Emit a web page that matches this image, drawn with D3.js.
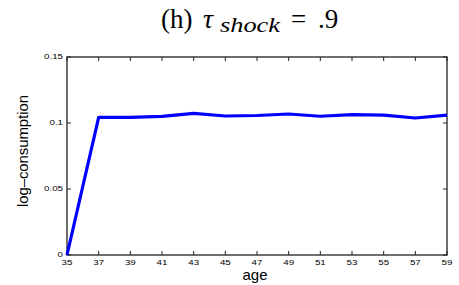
<!DOCTYPE html>
<html>
<head>
<meta charset="utf-8">
<script src="https://cdn.jsdelivr.net/npm/d3@7"></script>
<style>
  body { margin: 0; background: #fff; }
  svg { display: block; }
</style>
</head>
<body>
<script>
const ages = [35, 37, 39, 41, 43, 45, 47, 49, 51, 53, 55, 57, 59];
const consumption = [0, 0.1043, 0.1043, 0.105, 0.1073, 0.1053, 0.1057, 0.1068, 0.1051, 0.1063, 0.106, 0.1038, 0.106];
const yTicks = [0, 0.05, 0.1, 0.15];
const yTickLabels = ["0", "0.05", "0.1", "0.15"];

const width = 459, height = 285;
const margin = { top: 57, right: 12, bottom: 30, left: 67 };

const svg = d3.select("body").append("svg")
    .attr("width", width)
    .attr("height", height);

const x = d3.scaleLinear().domain([35, 59]).range([margin.left, width - margin.right]);
const y = d3.scaleLinear().domain([0, 0.15]).range([height - margin.bottom, margin.top]);

const tickFont = "Liberation Sans, Arial, sans-serif";

// box
svg.append("rect")
    .attr("x", x(35)).attr("y", y(0.15))
    .attr("width", x(59) - x(35)).attr("height", y(0) - y(0.15))
    .attr("fill", "none").attr("stroke", "#222").attr("stroke-width", 1.3);

// ticks, inward on all four sides
const tickLen = 4;
ages.forEach(a => {
    svg.append("line").attr("x1", x(a)).attr("x2", x(a))
        .attr("y1", y(0)).attr("y2", y(0) - tickLen).attr("stroke", "#222");
    svg.append("line").attr("x1", x(a)).attr("x2", x(a))
        .attr("y1", y(0.15)).attr("y2", y(0.15) + tickLen).attr("stroke", "#222");
});
yTicks.forEach(t => {
    svg.append("line").attr("x1", x(35)).attr("x2", x(35) + tickLen)
        .attr("y1", y(t)).attr("y2", y(t)).attr("stroke", "#222");
    svg.append("line").attr("x1", x(59)).attr("x2", x(59) - tickLen)
        .attr("y1", y(t)).attr("y2", y(t)).attr("stroke", "#222");
});

// tick labels (a bit wide, like the original export)
svg.append("g").selectAll("text")
    .data(ages)
    .enter().append("text")
    .attr("transform", d => `translate(${x(d)}, ${y(0) + 10}) scale(1.3, 1)`)
    .attr("text-anchor", "middle")
    .attr("font-family", tickFont)
    .attr("font-size", 7.5)
    .text(d => d);

svg.append("g").selectAll("text")
    .data(yTicks)
    .enter().append("text")
    .attr("transform", d => `translate(${x(35) - 4}, ${y(d) + 2}) scale(1.3, 1)`)
    .attr("text-anchor", "end")
    .attr("font-family", tickFont)
    .attr("font-size", 7.5)
    .text((d, i) => yTickLabels[i]);

// line
const line = d3.line()
    .x((d, i) => x(ages[i]))
    .y(d => y(d));

svg.append("path")
    .datum(consumption)
    .attr("d", line)
    .attr("fill", "none")
    .attr("stroke", "#0000ff")
    .attr("stroke-width", 3.2)
    .attr("stroke-linejoin", "round");

// axis labels
svg.append("text")
    .attr("x", 255)
    .attr("y", 280)
    .attr("text-anchor", "middle")
    .attr("font-family", tickFont)
    .attr("font-size", 15)
    .text("age");

svg.append("text")
    .attr("transform", `translate(28, 151) rotate(-90)`)
    .attr("text-anchor", "middle")
    .attr("font-family", tickFont)
    .attr("font-size", 15)
    .attr("textLength", 112)
    .text("log\u2013consumption");

// title, pieces placed like the LaTeX layout
const title = svg.append("text")
    .attr("y", 28)
    .attr("font-family", "Liberation Serif, serif")
    .attr("font-size", 27);
title.append("tspan").attr("x", 161).text("(h)");
title.append("tspan").attr("x", 203).attr("font-style", "italic")
    .attr("font-size", 28).text("\u03c4");
title.append("tspan").attr("x", 220).attr("dy", 4).attr("font-style", "italic")
    .attr("font-size", 21).attr("textLength", 60)
    .attr("lengthAdjust", "spacingAndGlyphs").text("shock");
title.append("tspan").attr("x", 291).attr("dy", -4).text("=");
title.append("tspan").attr("x", 318).text(".9");
</script>
</body>
</html>
